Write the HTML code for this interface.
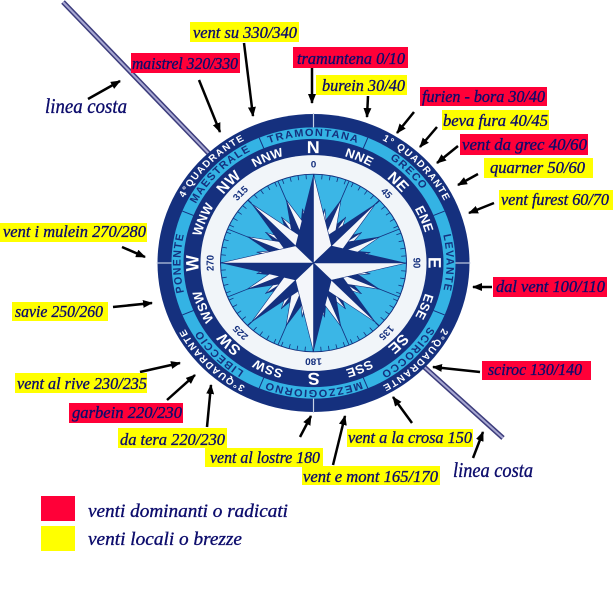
<!DOCTYPE html>
<html><head><meta charset="utf-8"><style>
html,body{margin:0;padding:0;background:#fff;}
svg{display:block}
.l{font-family:"Liberation Serif",serif;font-style:italic;fill:#0c0c6c;font-size:17px;stroke:#0c0c6c;stroke-width:0.35px}
.c{font-family:"Liberation Sans",sans-serif;font-weight:bold}
</style></head><body>
<svg width="613" height="589" viewBox="0 0 613 589" xmlns="http://www.w3.org/2000/svg" xmlns:xlink="http://www.w3.org/1999/xlink">
<defs>
<marker id="ah" markerWidth="10" markerHeight="8" refX="9" refY="4" orient="auto" markerUnits="userSpaceOnUse"><path d="M0,0 L10,4 L0,8 Z" fill="#000"/></marker>
<path id="p146" d="M0,146 A146,146 0 1 1 0,-146 A146,146 0 1 1 0,146"/>
<path id="p133" d="M0,133 A133,133 0 1 1 0,-133 A133,133 0 1 1 0,133"/>
<path id="p116" d="M0,116 A116,116 0 1 1 0,-116 A116,116 0 1 1 0,116"/>
<path id="p115" d="M0,115 A115,115 0 1 1 0,-115 A115,115 0 1 1 0,115"/>
<path id="p100" d="M0,100 A100,100 0 1 1 0,-100 A100,100 0 1 1 0,100"/>
<g id="pt4"><polygon points="0,0 0,-58 -6,-38" fill="#14307e"/><polygon points="0,0 0,-58 6,-38" fill="#f4f6fa" stroke="#14307e" stroke-width="0.6"/></g>
<g id="pt3"><polygon points="0,0 0,-72 -10,-30" fill="#14307e"/><polygon points="0,0 0,-72 10,-30" fill="#f4f6fa" stroke="#14307e" stroke-width="0.6"/></g>
<g id="pt2"><polygon points="0,0 0,-88 -12,-22" fill="#14307e"/><polygon points="0,0 0,-88 12,-22" fill="#f4f6fa" stroke="#14307e" stroke-width="0.6"/></g>
<g id="pt1"><polygon points="0,0 0,-93 -18,-18" fill="#14307e"/><polygon points="0,0 0,-93 18,-18" fill="#f4f6fa" stroke="#14307e" stroke-width="0.6"/></g>
<line id="rad" x1="0" y1="0" x2="0" y2="-93" stroke="#14307e" stroke-width="0.8"/>
</defs>

<line x1="63" y1="2" x2="218" y2="163" stroke="#3c3c7c" stroke-width="5"/>
<line x1="63" y1="2" x2="218" y2="163" stroke="#a8a8d2" stroke-width="2"/>
<line x1="412" y1="356" x2="503" y2="438" stroke="#3c3c7c" stroke-width="5"/>
<line x1="412" y1="356" x2="503" y2="438" stroke="#a8a8d2" stroke-width="2"/>

<g transform="translate(313.5,263) scale(1,0.955)">
<circle r="156" fill="#15307e"/>
<circle r="142" fill="#34b3e4"/>
<circle r="130" fill="#15307e"/>
<circle r="113" fill="#f1f5f9"/>
<circle r="93" fill="#3bb6e6" stroke="#14307e" stroke-width="1"/>
<circle r="90.5" fill="none" stroke="#14307e" stroke-width="5" stroke-dasharray="0.8 7.097"/>
<g stroke="#c8d2e6" stroke-width="1.2">
<line x1="0" y1="-142" x2="0" y2="-157"/>
<line x1="142" y1="0" x2="157" y2="0"/>
<line x1="0" y1="142" x2="0" y2="157"/>
<line x1="-142" y1="0" x2="-157" y2="0"/>
</g>
<g stroke="#15307e" stroke-width="1">
<line x1="0" y1="-130" x2="0" y2="-142" transform="rotate(22.5)"/>
<line x1="0" y1="-130" x2="0" y2="-142" transform="rotate(67.5)"/>
<line x1="0" y1="-130" x2="0" y2="-142" transform="rotate(112.5)"/>
<line x1="0" y1="-130" x2="0" y2="-142" transform="rotate(157.5)"/>
<line x1="0" y1="-130" x2="0" y2="-142" transform="rotate(202.5)"/>
<line x1="0" y1="-130" x2="0" y2="-142" transform="rotate(247.5)"/>
<line x1="0" y1="-130" x2="0" y2="-142" transform="rotate(292.5)"/>
<line x1="0" y1="-130" x2="0" y2="-142" transform="rotate(337.5)"/>
</g>
<use href="#rad" transform="rotate(0)"/><use href="#rad" transform="rotate(22.5)"/><use href="#rad" transform="rotate(45)"/><use href="#rad" transform="rotate(67.5)"/>
<use href="#rad" transform="rotate(90)"/><use href="#rad" transform="rotate(112.5)"/><use href="#rad" transform="rotate(135)"/><use href="#rad" transform="rotate(157.5)"/>
<use href="#rad" transform="rotate(180)"/><use href="#rad" transform="rotate(202.5)"/><use href="#rad" transform="rotate(225)"/><use href="#rad" transform="rotate(247.5)"/>
<use href="#rad" transform="rotate(270)"/><use href="#rad" transform="rotate(292.5)"/><use href="#rad" transform="rotate(315)"/><use href="#rad" transform="rotate(337.5)"/>

<use href="#pt4" transform="rotate(11.25)"/><use href="#pt4" transform="rotate(33.75)"/><use href="#pt4" transform="rotate(56.25)"/><use href="#pt4" transform="rotate(78.75)"/>
<use href="#pt4" transform="rotate(101.25)"/><use href="#pt4" transform="rotate(123.75)"/><use href="#pt4" transform="rotate(146.25)"/><use href="#pt4" transform="rotate(168.75)"/>
<use href="#pt4" transform="rotate(191.25)"/><use href="#pt4" transform="rotate(213.75)"/><use href="#pt4" transform="rotate(236.25)"/><use href="#pt4" transform="rotate(258.75)"/>
<use href="#pt4" transform="rotate(281.25)"/><use href="#pt4" transform="rotate(303.75)"/><use href="#pt4" transform="rotate(326.25)"/><use href="#pt4" transform="rotate(348.75)"/>
<use href="#pt3" transform="rotate(22.5)"/><use href="#pt3" transform="rotate(67.5)"/><use href="#pt3" transform="rotate(112.5)"/><use href="#pt3" transform="rotate(157.5)"/>
<use href="#pt3" transform="rotate(202.5)"/><use href="#pt3" transform="rotate(247.5)"/><use href="#pt3" transform="rotate(292.5)"/><use href="#pt3" transform="rotate(337.5)"/>
<use href="#pt2" transform="rotate(45)"/><use href="#pt2" transform="rotate(135)"/><use href="#pt2" transform="rotate(225)"/><use href="#pt2" transform="rotate(315)"/>
<use href="#pt1" transform="rotate(0)"/><use href="#pt1" transform="rotate(90)"/><use href="#pt1" transform="rotate(180)"/><use href="#pt1" transform="rotate(270)"/>

<g class="c" font-size="10" fill="#ffffff" letter-spacing="1.3">
<g transform="rotate(46)"><text><textPath href="#p146" startOffset="50%" text-anchor="middle">1° QUADRANTE</textPath></text></g>
<g transform="rotate(135)"><text><textPath href="#p146" startOffset="50%" text-anchor="middle">2°QUADRANTE</textPath></text></g>
<g transform="rotate(225)"><text><textPath href="#p146" startOffset="50%" text-anchor="middle">3°QUADRANTE</textPath></text></g>
<g transform="rotate(315)"><text><textPath href="#p146" startOffset="50%" text-anchor="middle">4°QUADRANTE</textPath></text></g>
</g>
<g class="c" font-size="11" fill="#15307e" letter-spacing="1.3">
<g transform="rotate(0)"><text><textPath href="#p133" startOffset="50%" text-anchor="middle">TRAMONTANA</textPath></text></g>
<g transform="rotate(45)"><text><textPath href="#p133" startOffset="50%" text-anchor="middle">GRECO</textPath></text></g>
<g transform="rotate(90)"><text><textPath href="#p133" startOffset="50%" text-anchor="middle">LEVANTE</textPath></text></g>
<g transform="rotate(135)"><text><textPath href="#p133" startOffset="50%" text-anchor="middle">SCIROCCO</textPath></text></g>
<g transform="rotate(180)"><text><textPath href="#p133" startOffset="50%" text-anchor="middle">MEZZOGIORNO</textPath></text></g>
<g transform="rotate(225)"><text><textPath href="#p133" startOffset="50%" text-anchor="middle">LIBECCIO</textPath></text></g>
<g transform="rotate(270)"><text><textPath href="#p133" startOffset="50%" text-anchor="middle">PONENTE</textPath></text></g>
<g transform="rotate(315)"><text><textPath href="#p133" startOffset="50%" text-anchor="middle">MAESTRALE</textPath></text></g>
</g>
<g class="c" fill="#ffffff" letter-spacing="0.5">
<g transform="rotate(0)"><text font-size="18"><textPath href="#p115" startOffset="50%" text-anchor="middle">N</textPath></text></g>
<g transform="rotate(22.5)"><text font-size="13"><textPath href="#p116" startOffset="50%" text-anchor="middle">NNE</textPath></text></g>
<g transform="rotate(45)"><text font-size="15.5"><textPath href="#p115" startOffset="50%" text-anchor="middle">NE</textPath></text></g>
<g transform="rotate(67.5)"><text font-size="13"><textPath href="#p116" startOffset="50%" text-anchor="middle">ENE</textPath></text></g>
<g transform="rotate(90)"><text font-size="18"><textPath href="#p115" startOffset="50%" text-anchor="middle">E</textPath></text></g>
<g transform="rotate(112.5)"><text font-size="13"><textPath href="#p116" startOffset="50%" text-anchor="middle">ESE</textPath></text></g>
<g transform="rotate(135)"><text font-size="15.5"><textPath href="#p115" startOffset="50%" text-anchor="middle">SE</textPath></text></g>
<g transform="rotate(157.5)"><text font-size="13"><textPath href="#p116" startOffset="50%" text-anchor="middle">SSE</textPath></text></g>
<g transform="rotate(180)"><text font-size="18"><textPath href="#p115" startOffset="50%" text-anchor="middle">S</textPath></text></g>
<g transform="rotate(202.5)"><text font-size="13"><textPath href="#p116" startOffset="50%" text-anchor="middle">SSW</textPath></text></g>
<g transform="rotate(225)"><text font-size="15.5"><textPath href="#p115" startOffset="50%" text-anchor="middle">SW</textPath></text></g>
<g transform="rotate(247.5)"><text font-size="13"><textPath href="#p116" startOffset="50%" text-anchor="middle">WSW</textPath></text></g>
<g transform="rotate(270)"><text font-size="18"><textPath href="#p115" startOffset="50%" text-anchor="middle">W</textPath></text></g>
<g transform="rotate(292.5)"><text font-size="13"><textPath href="#p116" startOffset="50%" text-anchor="middle">WNW</textPath></text></g>
<g transform="rotate(315)"><text font-size="15.5"><textPath href="#p115" startOffset="50%" text-anchor="middle">NW</textPath></text></g>
<g transform="rotate(337.5)"><text font-size="13"><textPath href="#p116" startOffset="50%" text-anchor="middle">NNW</textPath></text></g>
</g>
<g class="c" font-size="10" fill="#15307e">
<g transform="rotate(0)"><text><textPath href="#p100" startOffset="50%" text-anchor="middle">0</textPath></text></g>
<g transform="rotate(45)"><text><textPath href="#p100" startOffset="50%" text-anchor="middle">45</textPath></text></g>
<g transform="rotate(90)"><text><textPath href="#p100" startOffset="50%" text-anchor="middle">90</textPath></text></g>
<g transform="rotate(135)"><text><textPath href="#p100" startOffset="50%" text-anchor="middle">135</textPath></text></g>
<g transform="rotate(180)"><text><textPath href="#p100" startOffset="50%" text-anchor="middle">180</textPath></text></g>
<g transform="rotate(225)"><text><textPath href="#p100" startOffset="50%" text-anchor="middle">225</textPath></text></g>
<g transform="rotate(270)"><text><textPath href="#p100" startOffset="50%" text-anchor="middle">270</textPath></text></g>
<g transform="rotate(315)"><text><textPath href="#p100" startOffset="50%" text-anchor="middle">315</textPath></text></g>
</g>
</g>

<g stroke="#000" stroke-width="2.5" marker-end="url(#ah)">
<line x1="88" y1="99" x2="120" y2="81"/>
<line x1="199" y1="80" x2="220" y2="132"/>
<line x1="244" y1="43" x2="253" y2="116"/>
<line x1="312" y1="68" x2="312" y2="103"/>
<line x1="368" y1="96" x2="367" y2="117"/>
<line x1="414" y1="112" x2="397" y2="133"/>
<line x1="437" y1="127" x2="420" y2="147"/>
<line x1="458" y1="146" x2="437" y2="163"/>
<line x1="478" y1="174" x2="458" y2="185"/>
<line x1="494" y1="203" x2="469" y2="213"/>
<line x1="492" y1="287" x2="473" y2="287"/>
<line x1="480" y1="372" x2="433" y2="367"/>
<line x1="473" y1="458" x2="483" y2="432"/>
<line x1="412" y1="423" x2="393" y2="397"/>
<line x1="333" y1="465" x2="345" y2="416"/>
<line x1="300" y1="437" x2="311" y2="416"/>
<line x1="207" y1="427" x2="211" y2="385"/>
<line x1="167" y1="400" x2="195" y2="375"/>
<line x1="140" y1="372" x2="180" y2="363"/>
<line x1="113" y1="307" x2="152" y2="303"/>
<line x1="122" y1="247" x2="145" y2="257"/>
</g>

<g>
<rect x="190" y="22" width="109" height="20" fill="#ffff00"/>
<rect x="131" y="53" width="109" height="20" fill="#ff0038"/>
<rect x="293" y="47" width="115" height="21" fill="#ff0038"/>
<rect x="316" y="75" width="91" height="20" fill="#ffff00"/>
<rect x="420" y="87" width="127" height="19" fill="#ff0038"/>
<rect x="442" y="110" width="107" height="20" fill="#ffff00"/>
<rect x="460" y="134" width="128" height="21" fill="#ff0038"/>
<rect x="484" y="158" width="109" height="20" fill="#ffff00"/>
<rect x="499" y="190" width="114" height="20" fill="#ffff00"/>
<rect x="493" y="277" width="114" height="20" fill="#ff0038"/>
<rect x="482" y="361" width="109" height="19" fill="#ff0038"/>
<rect x="347" y="429" width="126" height="18" fill="#ffff00"/>
<rect x="302" y="466" width="138" height="19" fill="#ffff00"/>
<rect x="205" y="448" width="118" height="19" fill="#ffff00"/>
<rect x="118" y="428" width="109" height="20" fill="#ffff00"/>
<rect x="69" y="403" width="114" height="20" fill="#ff0038"/>
<rect x="15" y="373" width="132" height="20" fill="#ffff00"/>
<rect x="12" y="302" width="96" height="19" fill="#ffff00"/>
<rect x="0" y="223" width="147" height="19" fill="#ffff00"/>
</g>

<g class="l">
<text x="193" y="38" textLength="104" lengthAdjust="spacingAndGlyphs">vent su 330/340</text>
<text x="132" y="69" textLength="106" lengthAdjust="spacingAndGlyphs">maistrel 320/330</text>
<text x="297" y="64" textLength="108" lengthAdjust="spacingAndGlyphs">tramuntena 0/10</text>
<text x="322" y="91" textLength="83" lengthAdjust="spacingAndGlyphs">burein 30/40</text>
<text x="422" y="102" textLength="123" lengthAdjust="spacingAndGlyphs">furien - bora 30/40</text>
<text x="443" y="126" textLength="105" lengthAdjust="spacingAndGlyphs">beva fura 40/45</text>
<text x="462" y="150" textLength="125" lengthAdjust="spacingAndGlyphs">vent da grec 40/60</text>
<text x="490" y="173" textLength="95" lengthAdjust="spacingAndGlyphs">quarner 50/60</text>
<text x="501" y="205" textLength="108" lengthAdjust="spacingAndGlyphs">vent furest 60/70</text>
<text x="496" y="292" textLength="109" lengthAdjust="spacingAndGlyphs">dal vent 100/110</text>
<text x="488" y="375" textLength="94" lengthAdjust="spacingAndGlyphs">sciroc 130/140</text>
<text x="348" y="443" textLength="124" lengthAdjust="spacingAndGlyphs">vent a la crosa 150</text>
<text x="303" y="482" textLength="135" lengthAdjust="spacingAndGlyphs">vent e mont 165/170</text>
<text x="210" y="463" textLength="110" lengthAdjust="spacingAndGlyphs">vent al lostre 180</text>
<text x="120" y="445" textLength="105" lengthAdjust="spacingAndGlyphs">da tera 220/230</text>
<text x="72" y="418" textLength="110" lengthAdjust="spacingAndGlyphs">garbein 220/230</text>
<text x="17" y="389" textLength="130" lengthAdjust="spacingAndGlyphs">vent al rive 230/235</text>
<text x="15" y="317" textLength="88" lengthAdjust="spacingAndGlyphs">savie 250/260</text>
<text x="3" y="237" textLength="143" lengthAdjust="spacingAndGlyphs">vent i mulein 270/280</text>
<text x="45" y="113" font-size="21" textLength="82" lengthAdjust="spacingAndGlyphs">linea costa</text>
<text x="453" y="477" font-size="21" textLength="80" lengthAdjust="spacingAndGlyphs">linea costa</text>
</g>

<rect x="41" y="496" width="34" height="25" fill="#ff0038"/>
<rect x="41" y="526" width="34" height="25" fill="#ffff00"/>
<g class="l">
<text x="88" y="517" font-size="19" textLength="200" lengthAdjust="spacingAndGlyphs">venti dominanti o radicati</text>
<text x="88" y="545" font-size="19" textLength="154" lengthAdjust="spacingAndGlyphs">venti locali o brezze</text>
</g>
</svg>
</body></html>
